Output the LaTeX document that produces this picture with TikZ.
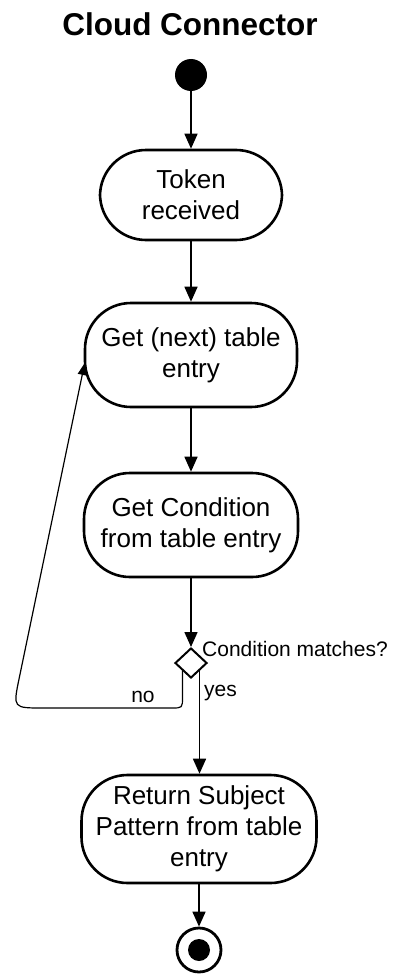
\documentclass[tikz,border=0pt]{standalone}
\usepackage{fontspec}
\setmainfont{Liberation Sans}
\usetikzlibrary{shapes.geometric,arrows.meta,calc}
\begin{document}
\begin{tikzpicture}[x=1pt,y=-1pt,
  activity/.style={draw,line width=2.6pt,rounded corners=46pt,inner sep=0pt,align=center,
    font=\fontsize{26}{31}\selectfont},
  flow/.style={line width=1.6pt,-{Triangle[width=13pt,length=15pt]}},
  loopflow/.style={line width=1.2pt,-{Triangle[width=9pt,length=12pt]}},
  lbl/.style={inner sep=0pt,font=\fontsize{21}{25}\selectfont}]
\useasboundingbox (0,0) rectangle (392,974);
\node[font=\bfseries\fontsize{31.5}{36}\selectfont,inner sep=0pt] (title) at (190,24) {Cloud Connector};
\node[circle,fill=black,minimum size=32pt,inner sep=0pt] (start) at (191,75) {};
\node[activity,minimum width=182pt,minimum height=90pt] (token) at (191,195) {Token\\received};
\node[activity,minimum width=212pt,minimum height=104pt] (next) at (191,355) {Get (next) table\\entry};
\node[activity,minimum width=214pt,minimum height=104pt] (cond) at (191,525) {Get Condition\\from table entry};
\node[diamond,draw,line width=2pt,minimum width=32pt,minimum height=30pt,inner sep=0pt] (dec) at (191,663) {};
\node[activity,minimum width=235pt,minimum height=108pt] (ret) at (199,829) {Return Subject\\Pattern from table\\entry};
\node[circle,draw,line width=2.8pt,minimum size=44pt,inner sep=0pt] (end) at (199,950) {};
\node[circle,fill=black,minimum size=22pt,inner sep=0pt] (enddot) at (end.center) {};
\node[lbl,anchor=west] (condlbl) at (202,649) {Condition matches?};
\node[lbl,anchor=west] (yes) at (204,693) {yes};
\node[lbl] (no) at (143,697) {no};
\coordinate (loopbot) at (13,708);
\coordinate (loopcorner) at (dec.south west |- loopbot);
\coordinate (loopin) at ($(next.west)+(1,8)$);
\draw[flow] (start) -- (token);
\draw[flow] (token) -- (next);
\draw[flow] (next) -- (cond);
\draw[flow] (cond) -- (dec);
\draw[flow] (dec.south east) -- (dec.south east |- ret.north);
\draw[flow] (ret) -- (end);
\draw[loopflow] (dec.south west) -- ($(loopcorner)+(0,-11)$)
  .. controls (loopcorner) .. ($(loopcorner)+(-11,0)$)
  -- ($(loopbot)+(30,0)$)
  .. controls (loopbot) .. ($(loopbot)!30pt!(loopin)$)
  -- (loopin);
\end{tikzpicture}
\end{document}
